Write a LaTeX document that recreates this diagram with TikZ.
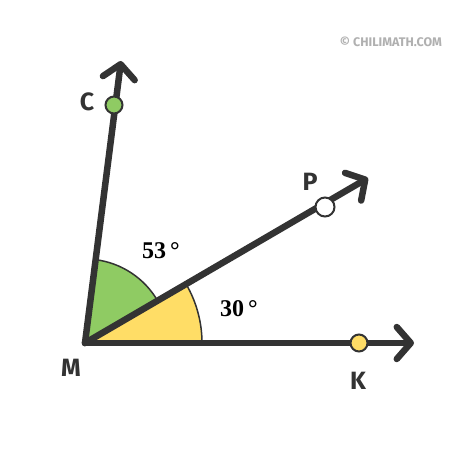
\documentclass[tikz,border=0pt]{standalone}
\usepackage{fontspec}
\setmainfont{Liberation Serif}
\newfontfamily\labfont{Fira Sans}
\usetikzlibrary{arrows.meta}
\definecolor{ink}{HTML}{333333}
\definecolor{greenfill}{HTML}{8FCB63}
\definecolor{yellowfill}{HTML}{FFDD66}
\definecolor{wmark}{HTML}{B0B0B0}
\tikzset{
  ray/.style={draw=ink, line width=6.5pt, line cap=round,
    -{Straight Barb[length=14pt, width=32pt, line width=6.5pt, round]}},
  dot/.style={circle, draw=ink, line width=2pt, minimum size=17pt, inner sep=0pt},
  ptlabel/.style={text=ink, font=\labfont\bfseries\fontsize{25}{25}\selectfont},
  anglabel/.style={text=black, font=\bfseries\fontsize{24}{24}\selectfont},
}
\begin{document}
\begin{tikzpicture}[x=1pt, y=-1pt]
\useasboundingbox (0,0) rectangle (474,474);
\fill[white] (0,0) rectangle (474,474);
\coordinate (M) at (85,343);
\coordinate (Kend) at (414,343);
\coordinate (Pend) at (368,178);
\coordinate (Cend) at (121,61);
% sectors
\fill[yellowfill, draw=ink, line width=1.5pt] (M) -- ++(0:117) arc[start angle=0, end angle=-30, radius=117] -- cycle;
\fill[greenfill, draw=ink, line width=1.5pt] (M) -- ++(-30:84) arc[start angle=-30, end angle=-83, radius=84] -- cycle;
% rays
\draw[ray] (M) -- (Kend);
\draw[ray] (M) -- (Pend);
\draw[ray] (M) -- (Cend);
\fill[ink] (M) circle (3.25pt);
% points
\node[dot, fill=greenfill] (C) at (114,105) {};
\node[dot, fill=white, minimum size=19pt] (P) at (325,207) {};
\node[dot, fill=yellowfill] (K) at (359,343) {};
% labels
\node[ptlabel] (Clab) at (87,102) {C};
\node[ptlabel] (Plab) at (310,182) {P};
\node[ptlabel] (Klab) at (358,381) {K};
\node[ptlabel] (Mlab) at (71,368) {M};
\node[anglabel] (a53) at (161,251) {53\,°};
\node[anglabel] (a30) at (239,309) {30\,°};
\node[text=wmark, font=\labfont\bfseries\fontsize{12.5}{12.5}\selectfont] (wm) at (391,42) {© CHILIMATH.COM};
\end{tikzpicture}
\end{document}
